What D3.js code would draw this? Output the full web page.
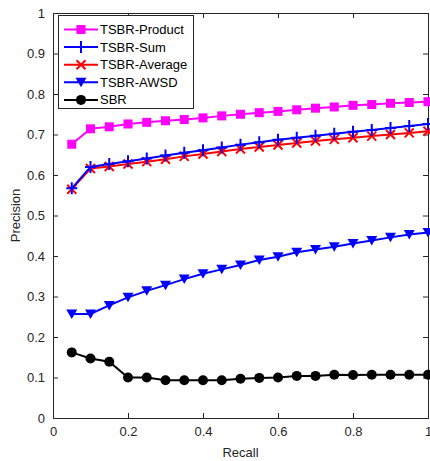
<!DOCTYPE html>
<html><head><meta charset="utf-8">
<script src="https://cdn.jsdelivr.net/npm/d3@7"></script>
<style>body{margin:0;background:#fff}svg{display:block}text{font-family:"Liberation Sans",Arial,sans-serif}</style>
</head><body>
<svg id="c" width="430" height="461"></svg>
<script>
const recall = [0.05,0.1,0.15,0.2,0.25,0.3,0.35,0.4,0.45,0.5,0.55,0.6,0.65,0.7,0.75,0.8,0.85,0.9,0.95,1.0];
const tsbrProduct = [0.676,0.714,0.719,0.726,0.730,0.734,0.737,0.741,0.746,0.750,0.754,0.757,0.761,0.765,0.768,0.772,0.774,0.777,0.779,0.781];
const tsbrSum = [0.567,0.620,0.627,0.634,0.641,0.648,0.655,0.661,0.668,0.675,0.681,0.687,0.692,0.697,0.702,0.707,0.711,0.716,0.721,0.726];
const tsbrAverage = [0.565,0.616,0.621,0.627,0.633,0.639,0.646,0.652,0.658,0.664,0.669,0.674,0.679,0.684,0.688,0.692,0.696,0.700,0.704,0.708];
const tsbrAWSD = [0.257,0.257,0.278,0.298,0.314,0.328,0.343,0.356,0.367,0.378,0.390,0.398,0.409,0.416,0.423,0.431,0.438,0.446,0.453,0.458];
const sbr = [0.162,0.147,0.139,0.100,0.100,0.093,0.093,0.093,0.093,0.097,0.099,0.100,0.104,0.104,0.107,0.106,0.107,0.107,0.107,0.107];
const xTicks = [0,0.2,0.4,0.6,0.8,1];
const yTicks = [0,0.1,0.2,0.3,0.4,0.5,0.6,0.7,0.8,0.9,1];
const seriesNames = ["TSBR-Product","TSBR-Sum","TSBR-Average","TSBR-AWSD","SBR"];

const series = [
  {name:seriesNames[0], values:tsbrProduct, color:"#ff00ff", marker:"square"},
  {name:seriesNames[1], values:tsbrSum, color:"#0000ff", marker:"plus"},
  {name:seriesNames[2], values:tsbrAverage, color:"#ff0000", marker:"x"},
  {name:seriesNames[3], values:tsbrAWSD, color:"#0000ff", marker:"tri"},
  {name:seriesNames[4], values:sbr, color:"#000000", marker:"circle"}
];

const svg = d3.select("#c");
const L=53, R=428, T=13, B=418;
const x = d3.scaleLinear().domain([0,1]).range([L,R]);
const y = d3.scaleLinear().domain([0,1]).range([B,T]);
const axisColor = "#262626";

function drawMarker(g, type, cx, cy, color){
  if(type==="square"){
    g.append("rect").attr("x",cx-4.5).attr("y",cy-4.5).attr("width",9).attr("height",9).attr("fill",color);
  } else if(type==="circle"){
    g.append("circle").attr("cx",cx).attr("cy",cy).attr("r",5).attr("fill",color);
  } else if(type==="tri"){
    g.append("path").attr("d",`M${cx-5.5},${cy-4.5}L${cx+5.5},${cy-4.5}L${cx},${cy+5}Z`).attr("fill",color);
  } else if(type==="plus"){
    g.append("path").attr("d",`M${cx-5.5},${cy}L${cx+5.5},${cy}M${cx},${cy-6}L${cx},${cy+6}`).attr("stroke",color).attr("stroke-width",2).attr("fill","none");
  } else if(type==="x"){
    g.append("path").attr("d",`M${cx-4.5},${cy-4.5}L${cx+4.5},${cy+4.5}M${cx-4.5},${cy+4.5}L${cx+4.5},${cy-4.5}`).attr("stroke",color).attr("stroke-width",2).attr("fill","none");
  }
}

// axes
const xAxisB = d3.axisBottom(x).tickValues(xTicks).tickSize(-5).tickPadding(9).tickFormat(d=>d3.format("")(d));
const xAxisT = d3.axisTop(x).tickValues(xTicks).tickSize(-5).tickFormat("");
const yAxisL = d3.axisLeft(y).tickValues(yTicks).tickSize(-5).tickPadding(8).tickFormat(d=>d3.format("")(d));
const yAxisR = d3.axisRight(y).tickValues(yTicks).tickSize(-5).tickFormat("");

function styleAxis(g){
  g.selectAll("path").attr("stroke",axisColor).attr("stroke-width",1);
  g.selectAll("line").attr("stroke",axisColor);
  g.selectAll("text").attr("fill",axisColor).attr("font-size",13).attr("font-family","Liberation Sans, Arial, sans-serif");
}
styleAxis(svg.append("g").attr("transform",`translate(0,${B})`).call(xAxisB));
styleAxis(svg.append("g").attr("transform",`translate(0,${T})`).call(xAxisT));
styleAxis(svg.append("g").attr("transform",`translate(${L},0)`).call(yAxisL));
styleAxis(svg.append("g").attr("transform",`translate(${R},0)`).call(yAxisR));
svg.selectAll(".domain").attr("d", function(){ return d3.select(this).attr("d").replace(/M([^V]*)V([^H]*)H([^V]*)V(.*)/, "M$1V$2H$3V$4"); });

// lines
const line = d3.line().x((d,i)=>x(recall[i])).y(d=>y(d));
const plot = svg.append("g");
series.slice().reverse().forEach(s=>{
  plot.append("path").datum(s.values).attr("d",line).attr("fill","none").attr("stroke",s.color).attr("stroke-width",2);
  const mg = plot.append("g");
  s.values.forEach((v,i)=>drawMarker(mg,s.marker,x(recall[i]),y(v),s.color));
});

// labels
svg.append("text").attr("x",(L+R)/2).attr("y",457).attr("text-anchor","middle").attr("font-size",13).attr("fill",axisColor).text("Recall");
svg.append("text").attr("transform",`translate(20,${(T+B)/2}) rotate(-90)`).attr("text-anchor","middle").attr("font-size",13).attr("fill",axisColor).text("Precision");

// legend
const lg = svg.append("g");
lg.append("rect").attr("x",58.5).attr("y",15.5).attr("width",135).attr("height",93).attr("fill","#fff").attr("stroke",axisColor).attr("stroke-width",1);
series.forEach((s,i)=>{
  const yy = 29.5 + i*17.6;
  lg.append("line").attr("x1",64).attr("x2",98).attr("y1",yy).attr("y2",yy).attr("stroke",s.color).attr("stroke-width",2);
  drawMarker(lg,s.marker,81,yy,s.color);
  lg.append("text").attr("x",100).attr("y",yy+4.5).attr("font-size",13).attr("fill","#000").text(s.name);
});
</script>
</body></html>
